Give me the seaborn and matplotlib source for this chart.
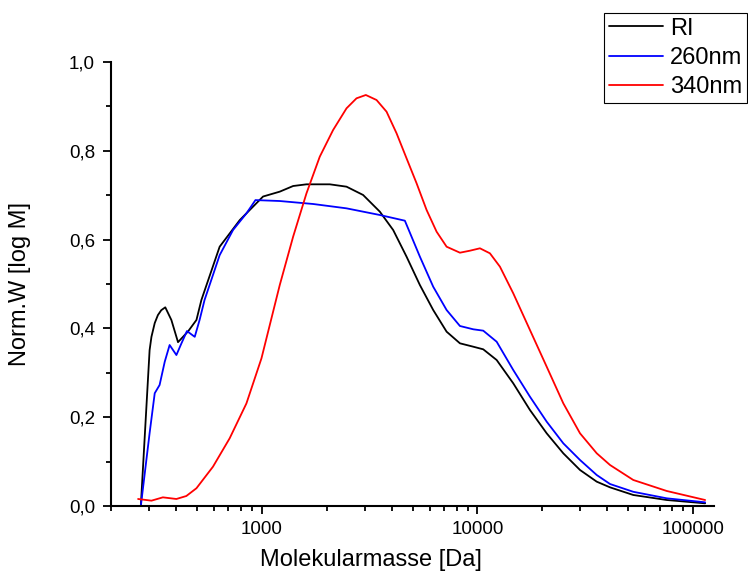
import numpy as np
import pandas as pd
import matplotlib
matplotlib.use("Agg")
import matplotlib.pyplot as plt
from matplotlib.ticker import LogLocator, NullFormatter, FuncFormatter, MultipleLocator
import seaborn as sns

# Molecular mass distributions (GPC), normalised W(log M)
ri_mass = [275, 302, 308, 319, 330, 342, 357, 381, 409, 455, 498, 525, 638, 791, 1014,
           1212, 1398, 1612, 2068, 2472, 2951, 3528, 4068, 4692, 5410, 6237, 7196, 8297,
           9563, 10640, 12280, 14660, 17520, 20950, 25010, 29900, 35740, 41200, 52800,
           75500, 113700]
ri_w = [0.0, 0.351, 0.381, 0.412, 0.430, 0.441, 0.4475, 0.419, 0.369, 0.393, 0.419, 0.464,
        0.584, 0.644, 0.697, 0.708, 0.7207, 0.7245, 0.7245, 0.7192, 0.7005, 0.6629,
        0.6216, 0.5616, 0.4977, 0.4414, 0.3926, 0.3664, 0.3588, 0.3529, 0.3288, 0.2763,
        0.2162, 0.1637, 0.1187, 0.0811, 0.0548, 0.0420, 0.0248, 0.0135, 0.006]

uv260_mass = [275, 302, 319, 336, 355, 374, 402, 424, 450, 489, 515, 543, 638, 736, 849,
              935, 1212, 1730, 2472, 3528, 4609, 5410, 6237, 7196, 8297, 9563, 10640,
              12280, 14660, 17520, 20950, 25010, 29900, 35740, 41200, 52800, 75500, 113700]
uv260_w = [0.0, 0.164, 0.254, 0.2725, 0.325, 0.3626, 0.340, 0.366, 0.394, 0.381, 0.419,
           0.464, 0.565, 0.6216, 0.659, 0.689, 0.6869, 0.6802, 0.6704, 0.6554, 0.6426,
           0.5616, 0.4939, 0.4414, 0.4054, 0.3980, 0.3949, 0.3700, 0.3063, 0.2462, 0.1899,
           0.1412, 0.1036, 0.0698, 0.0495, 0.032, 0.0173, 0.0083]

uv340_mass = [267, 308, 348, 402, 447, 498, 594, 710, 849, 997, 1212, 1398, 1612, 1858,
              2142, 2472, 2750, 3038, 3406, 3790, 4218, 4692, 5223, 5812, 6467, 7196, 8297,
              9230, 10271, 11428, 12717, 14660, 17520, 20950, 25010, 29900, 35740, 41200,
              52800, 75500, 113700]
uv340_w = [0.0158, 0.012, 0.0195, 0.0158, 0.0225, 0.040, 0.0885, 0.1525, 0.231, 0.3326,
           0.4977, 0.6066, 0.7042, 0.7868, 0.8468, 0.8957, 0.9182, 0.9257, 0.9144, 0.8881,
           0.8394, 0.7831, 0.7268, 0.6667, 0.6178, 0.5840, 0.5705, 0.5750, 0.5804, 0.5691,
           0.5390, 0.4790, 0.3964, 0.3137, 0.2313, 0.1637, 0.1187, 0.0923, 0.0586, 0.0338,
           0.0135]

series_names = ["RI", "260nm", "340nm"]
series_colors = ["black", "blue", "red"]

y_ticks = [0.0, 0.2, 0.4, 0.6, 0.8, 1.0]

frames = []
for name, m, w in zip(series_names,
                      [ri_mass, uv260_mass, uv340_mass],
                      [ri_w, uv260_w, uv340_w]):
    frames.append(pd.DataFrame({"M": m, "W": w, "Detektor": name}))
df = pd.concat(frames, ignore_index=True)

sns.set_style("ticks")
plt.rcParams["font.family"] = ["Liberation Sans", "DejaVu Sans"]
plt.rcParams["text.color"] = "black"
plt.rcParams["axes.labelcolor"] = "black"

fig = plt.figure(figsize=(7.48, 5.77), dpi=100)
ax = fig.add_axes([111 / 748, 1 - 506 / 577, 603 / 748, 444 / 577])

sns.lineplot(data=df, x="M", y="W", hue="Detektor", hue_order=series_names,
             palette=series_colors, estimator=None, sort=False, linewidth=1.3,
             ax=ax, legend=False)

ax.set_xscale("log")
ax.set_xlim(200, 125000)
ax.set_ylim(0, 1.0)

ax.xaxis.set_major_locator(LogLocator(base=10, numticks=10))
ax.xaxis.set_minor_locator(LogLocator(base=10, subs=np.arange(2, 10), numticks=100))
ax.xaxis.set_minor_formatter(NullFormatter())
ax.xaxis.set_major_formatter(FuncFormatter(lambda v, p: f"{int(round(v))}"))

ax.set_yticks(y_ticks)
ax.yaxis.set_minor_locator(MultipleLocator(0.1))
ax.yaxis.set_major_formatter(FuncFormatter(lambda v, p: f"{v:.1f}".replace(".", ",")))

for side in ["top", "right"]:
    ax.spines[side].set_visible(False)
for side in ["left", "bottom"]:
    ax.spines[side].set_linewidth(1.5)
    ax.spines[side].set_color("black")

ax.tick_params(which="major", direction="out", length=6, width=1.3, labelsize=13.5,
               colors="black", labelcolor="black", pad=4.5)
ax.tick_params(which="minor", direction="out", length=3.3, width=1.3, colors="black")
ax.tick_params(axis="y", which="major", pad=5.5)

ax.set_xlabel("Molekularmasse [Da]", fontsize=17, color="black")
ax.set_ylabel("Norm.W [log M]", fontsize=17, color="black")
ax.xaxis.set_label_coords(0.431, -0.096)
ax.yaxis.set_label_coords(-0.133, 0.5)

handles = [plt.Line2D([], [], color=c, linewidth=1.3) for c in series_colors]
leg = fig.legend(handles, series_names, loc="upper left",
                 bbox_to_anchor=(604 / 748, 1 - 13 / 577), fontsize=17,
                 frameon=True, fancybox=False, shadow=False, borderaxespad=0,
                 handlelength=2.3, handletextpad=0.3, labelspacing=0.30,
                 borderpad=0.2)
leg.get_frame().set_edgecolor("black")
leg.get_frame().set_linewidth(0.8)
leg.get_frame().set_alpha(1)
for t in leg.get_texts():
    t.set_color("black")

fig.savefig("out.png", dpi=100)
